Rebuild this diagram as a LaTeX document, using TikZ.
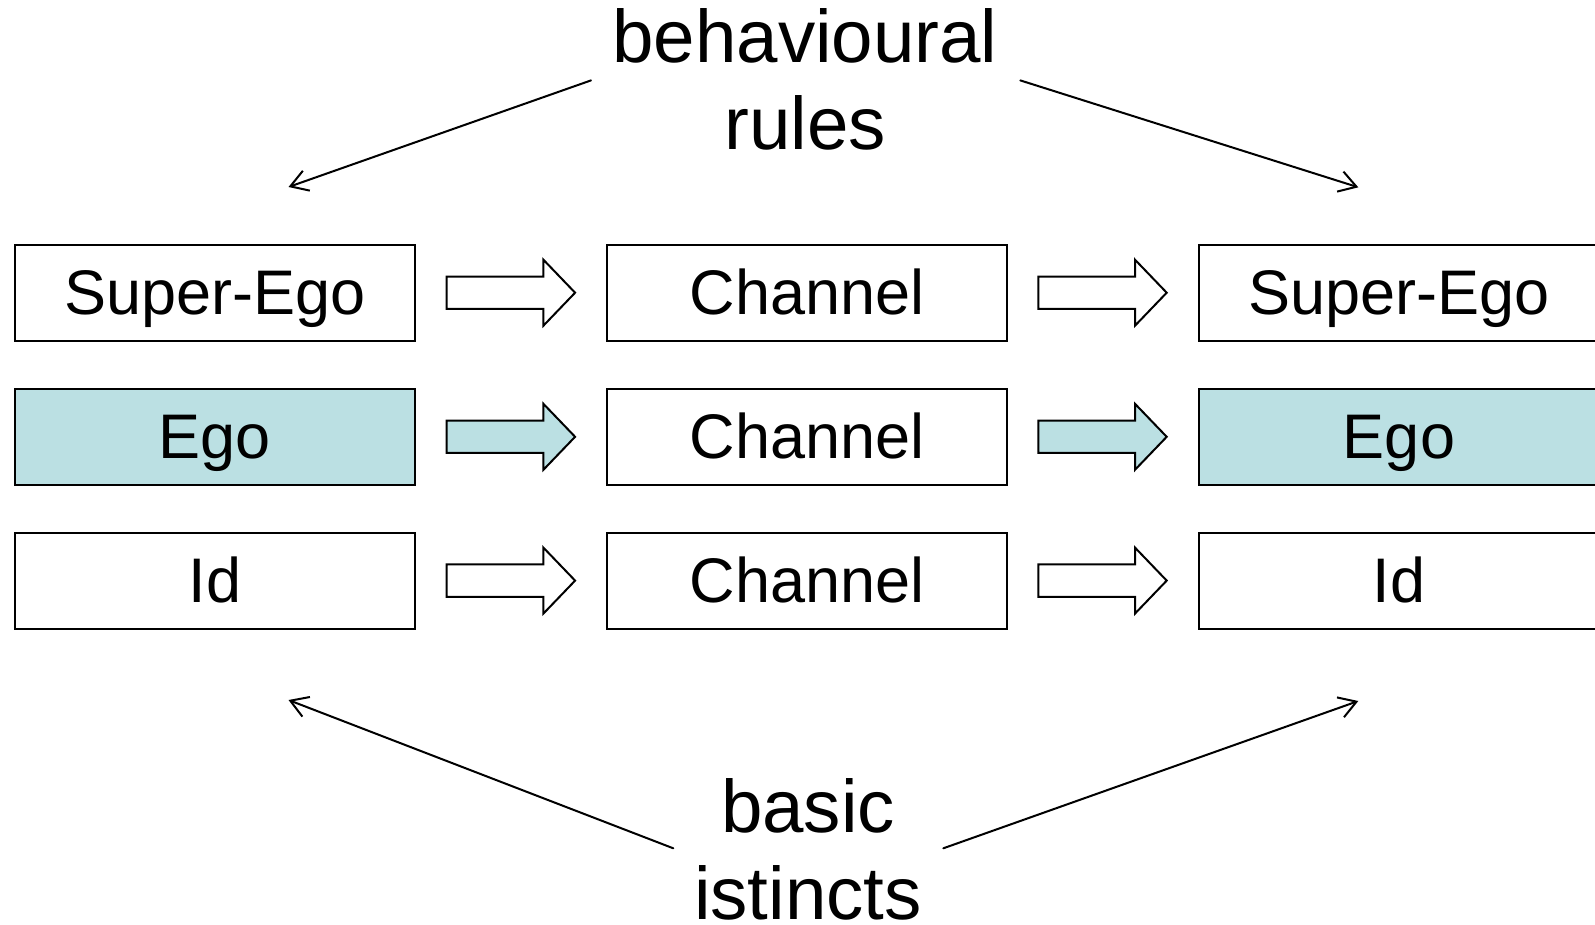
\documentclass[tikz,border=0pt]{standalone}
\usepackage{fontspec}
\setmainfont{Liberation Sans}
\usetikzlibrary{arrows.meta}
\definecolor{egofill}{RGB}{187,224,227}
\tikzset{
  x=1pt, y=-1pt,
  box/.style={draw=black, line width=2pt, fill=white, minimum width=400.3pt, minimum height=96pt,
    inner sep=0pt, text height=44pt, text depth=0pt, font=\fontsize{63}{75}\selectfont},
  egobox/.style={box, fill=egofill},
  biglabel/.style={align=center, inner sep=0pt, anchor=north, font=\fontsize{74.5}{87}\selectfont},
  thinarrow/.style={line width=2pt, line cap=round, -{Straight Barb[length=17pt,width=21pt,line width=2pt]}},
  blockarrow/.pic={
    \draw[line width=2pt, line join=miter, fill=#1]
      (0,-16.15) -- (96.7,-16.15) -- (96.7,-33) -- (128.4,0) -- (96.7,33) -- (96.7,16.15) -- (0,16.15) -- cycle;
  }
}
\begin{document}
\begin{tikzpicture}
\useasboundingbox (0,0) rectangle (1595,924);
% boxes
\node[box]    (se1) at (214.9,292.7) {Super-Ego};
\node[egobox] (eg1) at (214.9,436.8) {Ego};
\node[box]    (id1) at (214.9,580.6) {Id};
\node[box]    (ch1) at (807,292.7) {Channel};
\node[box]    (ch2) at (807,436.8) {Channel};
\node[box]    (ch3) at (807,580.6) {Channel};
\node[box]    (se2) at (1399,292.7) {Super-Ego};
\node[egobox] (eg2) at (1399,436.8) {Ego};
\node[box]    (id2) at (1399,580.6) {Id};
% block arrows
\pic at (446.7,292.7) {blockarrow=white};
\pic at (446.7,436.8) {blockarrow=egofill};
\pic at (446.7,580.6) {blockarrow=white};
\pic at (1038.3,292.7) {blockarrow=white};
\pic at (1038.3,436.8) {blockarrow=egofill};
\pic at (1038.3,580.6) {blockarrow=white};
% labels
\node[biglabel] (rules) at (805,8.8) {behavioural\\rules};
\node[biglabel] (inst) at (808,778.3) {basic\\istincts};
% thin arrows
\coordinate (rA) at (591,80.4);
\coordinate (rB) at (1020.3,80.4);
\coordinate (tL) at (288.5,187);
\coordinate (tR) at (1358.3,187.3);
\coordinate (iA) at (673.3,848.3);
\coordinate (iB) at (943.3,848.3);
\coordinate (bL) at (288.5,700);
\coordinate (bR) at (1358.3,701);
\draw[thinarrow] (rA) -- (tL);
\draw[thinarrow] (rB) -- (tR);
\draw[thinarrow] (iA) -- (bL);
\draw[thinarrow] (iB) -- (bR);
\end{tikzpicture}
\end{document}
